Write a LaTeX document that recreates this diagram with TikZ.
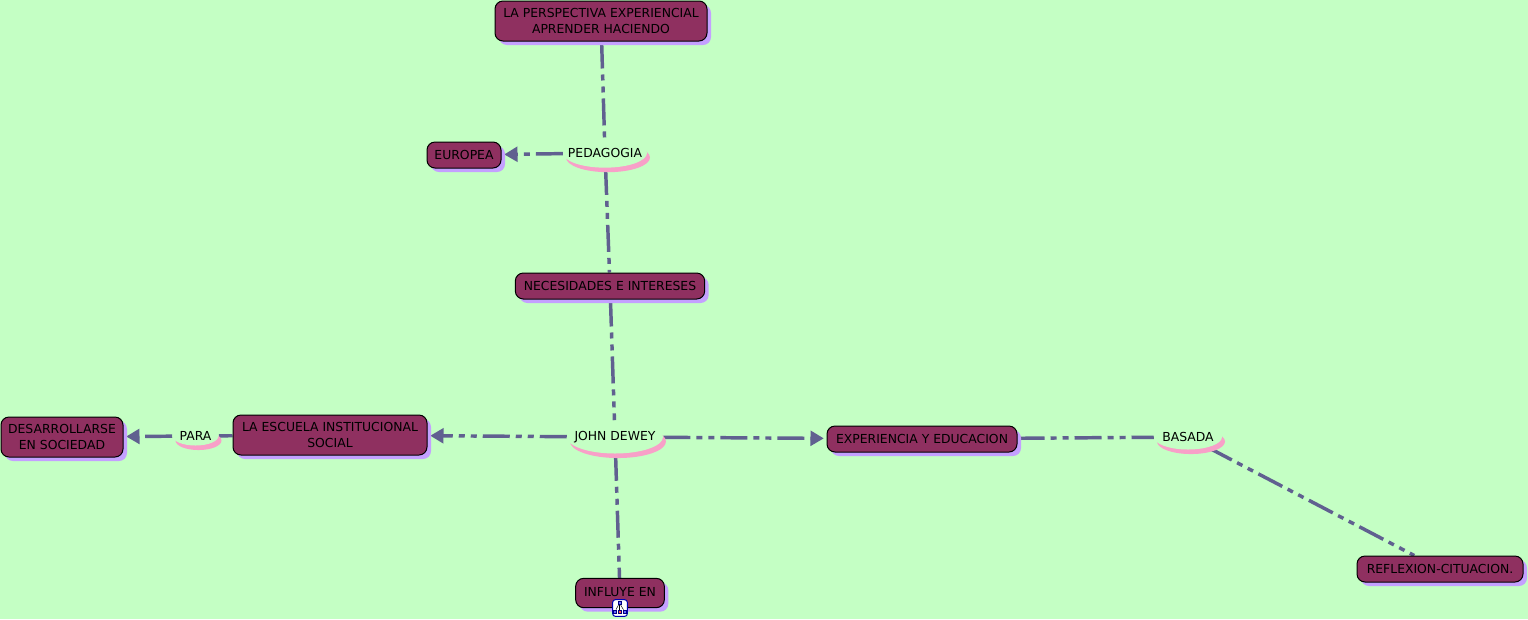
\documentclass[tikz,border=0pt]{standalone}
\usepackage{fontspec}
\setmainfont{DejaVu Sans}
\usepackage{tikz}
\usetikzlibrary{arrows.meta,shapes.geometric,shadows,backgrounds}
\definecolor{mapgreen}{RGB}{196,255,196}
\definecolor{boxfill}{RGB}{143,48,96}
\definecolor{boxshade}{RGB}{196,160,255}
\definecolor{linkshade}{RGB}{248,160,200}
\definecolor{edgeblue}{RGB}{96,96,144}
\tikzstyle{concept}=[rectangle,rounded corners=6pt,draw=black,line width=.75pt,fill=boxfill,text=black,font=\fontsize{9.3pt}{11.6pt}\selectfont,align=center,inner sep=0pt,drop shadow={shadow xshift=3pt,shadow yshift=-3pt,fill=boxshade,opacity=1}]
\tikzstyle{link}=[ellipse,fill=mapgreen,text=black,font=\fontsize{9.3pt}{11.6pt}\selectfont,inner sep=0pt,drop shadow={shadow xshift=2.25pt,shadow yshift=-3.4pt,fill=linkshade,opacity=1}]
\tikzstyle{edge}=[draw=edgeblue,line width=2.6pt,dash pattern=on 20.25pt off 4.5pt on 4.5pt off 4.5pt on 4.5pt off 4.5pt]
\tikzstyle{arrow edge}=[edge,-{Triangle[length=10pt,width=11pt]},shorten >=2pt]
\tikzstyle{icon part}=[draw=blue!50!black,line width=.35pt,minimum size=2.4pt,inner sep=0pt]

\begin{document}
\begin{tikzpicture}[x=.75pt,y=-.75pt]
        \useasboundingbox (0,0) rectangle (1528,619);
        % concepts
        \node[concept,minimum width=159pt,minimum height=30pt] (perspectiva) at (601,21) {LA PERSPECTIVA EXPERIENCIAL\\APRENDER HACIENDO};
        \node[concept,minimum width=55.5pt,minimum height=19.5pt] (europea) at (464,155) {EUROPEA};
        \node[concept,minimum width=142pt,minimum height=19.5pt] (necesidades) at (610,286) {NECESIDADES E INTERESES};
        \node[concept,minimum width=145.5pt,minimum height=30pt] (escuela) at (330,435) {LA ESCUELA INSTITUCIONAL\\SOCIAL};
        \node[concept,minimum width=91.5pt,minimum height=30pt] (desarrollarse) at (62,437) {DESARROLLARSE\\EN SOCIEDAD};
        \node[concept,minimum width=142.5pt,minimum height=19.5pt] (experiencia) at (922,439) {EXPERIENCIA Y EDUCACION};
        \node[concept,minimum width=124.5pt,minimum height=19.5pt] (reflexion) at (1440,569) {REFLEXION-CITUACION.};
        \node[concept,minimum width=66.5pt,minimum height=22pt] (influye) at (620,593) {\raisebox{1.5pt}{INFLUYE EN}};
        % linking phrases
        \node[link,minimum width=63pt,minimum height=22pt] (pedagogia) at (605,153) {\makebox[0pt]{PEDAGOGIA}};
        \node[link,minimum width=72pt,minimum height=24.75pt] (dewey) at (615,437) {\makebox[0pt]{JOHN DEWEY}};
        \node[link,minimum width=34.5pt,minimum height=14.25pt] (para) at (195.5,436) {\makebox[0pt]{PARA}};
        \node[link,minimum width=51pt,minimum height=18.75pt] (basada) at (1188,437) {\makebox[0pt]{BASADA}};
        % small map icon on the last concept
        \node[rectangle,rounded corners=2pt,draw=blue!70!black,line width=.75pt,fill=white,minimum width=11pt,minimum height=12.5pt,inner sep=0pt] (icon) at (620,608) {};
        \node[icon part,fill=blue!60] (icontop) at (619.5,603) {};
        \node[icon part,fill=blue!60] (iconleft) at (615,611.5) {};
        \node[icon part,fill=red!70] (iconmid) at (619.5,611.5) {};
        \node[icon part,fill=blue!60] (iconright) at (624.5,611.5) {};
        \draw[line width=.35pt] (icontop) -- (iconmid);
        \draw[line width=.35pt] (icontop) -- (iconleft);
        \draw[line width=.35pt] (icontop) -- (iconright);
        \begin{scope}[on background layer]
        \fill[mapgreen] (0,0) rectangle (1528,619);
        \draw[edge] (perspectiva) to (pedagogia);
        \draw[arrow edge] (pedagogia) to (europea);
        \draw[edge] (pedagogia) to (necesidades);
        \draw[edge] (necesidades) to (dewey);
        \draw[arrow edge] (dewey) to (escuela);
        \draw[arrow edge] (dewey) to (experiencia);
        \draw[edge] (dewey) to (influye);
        \draw[edge] (escuela) to (para);
        \draw[arrow edge] (para) to (desarrollarse);
        \draw[edge] (experiencia) to (basada);
        \draw[edge] (basada) to (reflexion);
        \end{scope}
\end{tikzpicture}
\end{document}
